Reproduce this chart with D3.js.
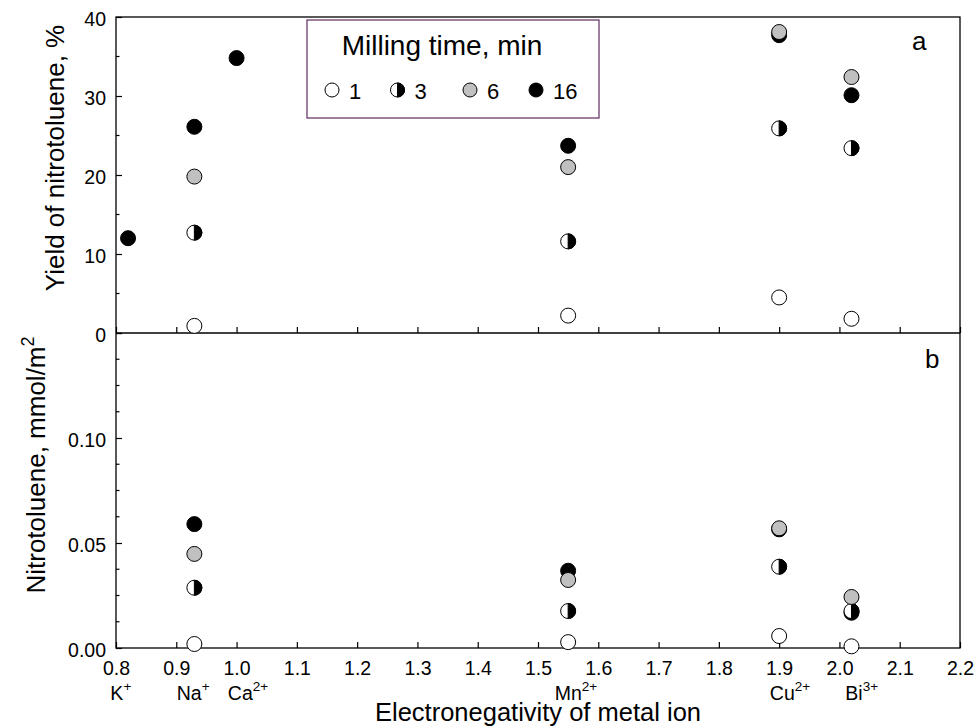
<!DOCTYPE html>
<html><head><meta charset="utf-8">
<script src="https://cdn.jsdelivr.net/npm/d3@7/dist/d3.min.js"></script>
<style>
body{margin:0;background:#fff;}
svg{display:block;font-family:"Liberation Sans",Arial,sans-serif;}
</style></head>
<body>
<svg id="chart" width="976" height="727"></svg>
<script>
// ---- data ----
const ions = ["K", "Na", "Ca", "Mn", "Cu", "Bi"];
const charges = ["+", "+", "2+", "2+", "2+", "3+"];
const electroneg = [0.82, 0.93, 1.00, 1.55, 1.90, 2.02];
const ionLabelPos = [0.808, 0.928, 1.019, 1.563, 1.918, 2.037];
const millingTimes = ["1", "3", "6", "16"];
// yield of nitrotoluene, % (panel a)
const yield1  = [null, 0.9,  null, 2.2,  4.5,  1.8];
const yield3  = [null, 12.7, null, 11.6, 25.9, 23.4];
const yield6  = [null, 19.8, null, 21.0, 38.1, 32.4];
const yield16 = [12.0, 26.1, 34.8, 23.7, 37.7, 30.1];
// nitrotoluene, mmol/m2 (panel b)
const nitro1  = [null, 0.0019, null, 0.0028, 0.0057, 0.0008];
const nitro3  = [null, 0.0287, null, 0.0176, 0.0387, 0.0176];
const nitro6  = [null, 0.0448, null, 0.0324, 0.0570, 0.0243];
const nitro16 = [null, 0.0590, null, 0.0368, 0.0565, 0.0168];
const xTicks = [0.8, 0.9, 1.0, 1.1, 1.2, 1.3, 1.4, 1.5, 1.6, 1.7, 1.8, 1.9, 2.0, 2.1, 2.2];
const yTicksA = [0, 10, 20, 30, 40];
const yMinorA = [5, 15, 25, 35];
const yTicksB = [0, 0.05, 0.10, 0.15];
const yMinorB = [0.0125, 0.025, 0.0375, 0.0625, 0.075, 0.0875, 0.1125, 0.125, 0.1375];

// ---- layout ----
const svg = d3.select("#chart");
const L = 116, R = 960, T = 17, M = 333, B = 648;
const x = d3.scaleLinear().domain([0.8, 2.2]).range([L, R]);
const yA = d3.scaleLinear().domain([0, 40]).range([M, T]);
const yB = d3.scaleLinear().domain([0, 0.15]).range([B, M]);
const FS = 19.5;

const styles = {
  "1":  {type: "open"},
  "3":  {type: "half"},
  "6":  {type: "gray"},
  "16": {type: "black"}
};

function marker(g, cx, cy, r, t) {
  const type = styles[t].type;
  const fill = type === "black" ? "#000" : type === "gray" ? "#c0c0c0" : "#fff";
  g.append("circle").attr("cx", cx).attr("cy", cy).attr("r", r)
    .attr("fill", fill).attr("stroke", "#000").attr("stroke-width", 1);
  if (type === "half") {
    g.append("path")
      .attr("d", `M${cx},${cy - r} A${r},${r} 0 0 1 ${cx},${cy + r} Z`)
      .attr("fill", "#000").attr("stroke", "#000").attr("stroke-width", 1);
  }
}

// ---- axes ----
const axA = d3.axisLeft(yA).tickValues(yTicksA).tickFormat(d3.format("d"))
  .tickSizeInner(-6).tickSizeOuter(0).tickPadding(10);
const gA = svg.append("g").attr("transform", `translate(${L},0)`).call(axA);
const axB = d3.axisLeft(yB).tickValues(yTicksB).tickFormat(d => d === 0.15 ? "" : d3.format(".2f")(d))
  .tickSizeInner(-6).tickSizeOuter(0).tickPadding(10);
const gB = svg.append("g").attr("transform", `translate(${L},0)`).call(axB);
const axX = d3.axisBottom(x).tickValues(xTicks).tickFormat(d3.format(".1f"))
  .tickSizeInner(-6).tickSizeOuter(0).tickPadding(13);
const gX = svg.append("g").attr("transform", `translate(0,${B})`).call(axX);
const axXA = d3.axisBottom(x).tickValues(xTicks).tickFormat("")
  .tickSizeInner(-6).tickSizeOuter(0);
const gXA = svg.append("g").attr("transform", `translate(0,${M})`).call(axXA);

[gA, gB, gX, gXA].forEach(g => {
  g.select(".domain").remove();
  g.selectAll(".tick line").attr("stroke", "#000").attr("stroke-width", 1.2);
  g.selectAll("text").attr("font-size", FS).attr("fill", "#000")
    .attr("font-family", "'Liberation Sans',Arial,sans-serif");
});
gA.selectAll("text").attr("dy", "0.42em");
gB.selectAll("text").attr("dy", "0.42em");

// minor ticks
svg.append("g").selectAll("line").data(yMinorA).join("line")
  .attr("x1", L).attr("x2", L + 3.5).attr("y1", d => yA(d)).attr("y2", d => yA(d))
  .attr("stroke", "#000").attr("stroke-width", 1.2);
svg.append("g").selectAll("line").data(yMinorB).join("line")
  .attr("x1", L).attr("x2", L + 3.5).attr("y1", d => yB(d)).attr("y2", d => yB(d))
  .attr("stroke", "#000").attr("stroke-width", 1.2);

// frame
const frame = svg.append("g").attr("stroke", "#000").attr("stroke-width", 1.3).attr("fill", "none");
frame.append("rect").attr("x", L).attr("y", T).attr("width", R - L).attr("height", B - T);
frame.append("line").attr("x1", L).attr("x2", R).attr("y1", M).attr("y2", M);

// ---- data points ----
const seriesA = {"1": yield1, "3": yield3, "6": yield6, "16": yield16};
const seriesB = {"1": nitro1, "3": nitro3, "6": nitro6, "16": nitro16};
const drawOrder = ["16", "1", "3", "6"];
const pts = svg.append("g");
drawOrder.forEach(t => {
  seriesA[t].forEach((v, i) => { if (v !== null) marker(pts, x(electroneg[i]), yA(v), 7.5, t); });
  seriesB[t].forEach((v, i) => { if (v !== null) marker(pts, x(electroneg[i]), yB(v), 7.5, t); });
});

// ---- ion labels ----
ions.forEach((ion, i) => {
  const t = svg.append("text").attr("x", x(ionLabelPos[i])).attr("y", 700)
    .attr("text-anchor", "middle").attr("font-size", FS);
  t.append("tspan").text(ion);
  t.append("tspan").attr("font-size", 13.5).attr("dy", -9).text(charges[i]);
});

// ---- axis titles ----
svg.append("text").attr("x", (L + R) / 2).attr("y", 721).attr("text-anchor", "middle")
  .attr("font-size", 25.5).text("Electronegativity of metal ion");
svg.append("text").attr("transform", `translate(64,158) rotate(-90)`).attr("text-anchor", "middle")
  .attr("font-size", 26).text("Yield of nitrotoluene, %");
const tb = svg.append("text").attr("transform", `translate(45,465) rotate(-90)`).attr("text-anchor", "middle")
  .attr("font-size", 26);
tb.append("tspan").text("Nitrotoluene, mmol/m");
tb.append("tspan").attr("font-size", 18).attr("dy", -11).text("2");

// panel labels
svg.append("text").attr("x", 912).attr("y", 50).attr("font-size", 26).text("a");
svg.append("text").attr("x", 925).attr("y", 368).attr("font-size", 26).text("b");

// ---- legend ----
const lg = svg.append("g");
lg.append("rect").attr("x", 307).attr("y", 20).attr("width", 292).attr("height", 98)
  .attr("fill", "#fff").attr("stroke", "#5e2a60").attr("stroke-width", 1.2);
lg.append("text").attr("x", 442).attr("y", 55).attr("text-anchor", "middle")
  .attr("font-size", 28).text("Milling time, min");
const legX = [332, 397.5, 470, 536];
millingTimes.forEach((t, i) => {
  marker(lg, legX[i], 90, 7, t);
  lg.append("text").attr("x", legX[i] + 17).attr("y", 98.5).attr("font-size", 22).text(t);
});
</script>
</body></html>
